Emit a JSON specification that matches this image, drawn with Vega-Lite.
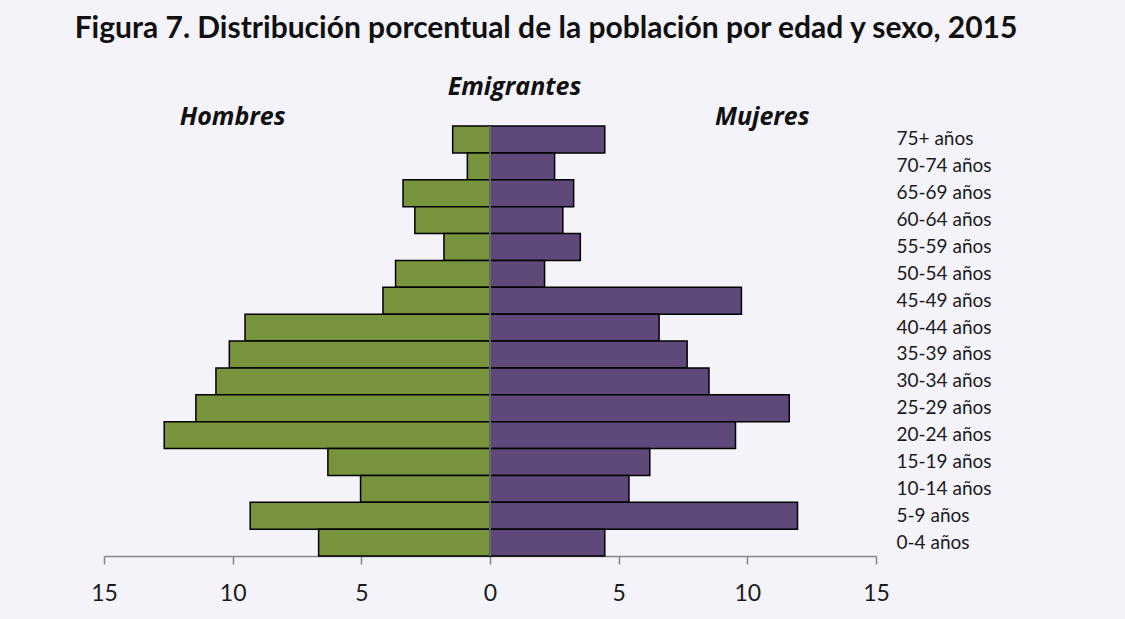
{
  "$schema": "https://vega.github.io/schema/vega-lite/v6.json",
  "width": 772,
  "height": 430,
  "autosize": "none",
  "padding": {"left": 104, "top": 126, "right": 249, "bottom": 63},
  "background": "#f4f3f9",
  "config": {"view": {"stroke": null}, "font": "Lato"},
  "title": {
    "text": "Figura 7. Distribución porcentual de la población por edad y sexo, 2015",
    "font": "Lato",
    "fontSize": 30,
    "fontWeight": "bold",
    "color": "#111111",
    "anchor": "middle",
    "frame": "group",
    "dx": 56,
    "offset": 31
  },
  "datasets": {
    "pyr": [
      {"edad": "75+ años", "sexo": "Hombres", "valor": -1.45},
      {"edad": "70-74 años", "sexo": "Hombres", "valor": -0.88},
      {"edad": "65-69 años", "sexo": "Hombres", "valor": -3.38},
      {"edad": "60-64 años", "sexo": "Hombres", "valor": -2.92},
      {"edad": "55-59 años", "sexo": "Hombres", "valor": -1.79},
      {"edad": "50-54 años", "sexo": "Hombres", "valor": -3.67},
      {"edad": "45-49 años", "sexo": "Hombres", "valor": -4.16},
      {"edad": "40-44 años", "sexo": "Hombres", "valor": -9.52},
      {"edad": "35-39 años", "sexo": "Hombres", "valor": -10.13},
      {"edad": "30-34 años", "sexo": "Hombres", "valor": -10.65},
      {"edad": "25-29 años", "sexo": "Hombres", "valor": -11.43},
      {"edad": "20-24 años", "sexo": "Hombres", "valor": -12.66},
      {"edad": "15-19 años", "sexo": "Hombres", "valor": -6.3},
      {"edad": "10-14 años", "sexo": "Hombres", "valor": -5.03},
      {"edad": "5-9 años", "sexo": "Hombres", "valor": -9.32},
      {"edad": "0-4 años", "sexo": "Hombres", "valor": -6.66},
      {"edad": "75+ años", "sexo": "Mujeres", "valor": 4.46},
      {"edad": "70-74 años", "sexo": "Mujeres", "valor": 2.51},
      {"edad": "65-69 años", "sexo": "Mujeres", "valor": 3.25},
      {"edad": "60-64 años", "sexo": "Mujeres", "valor": 2.83},
      {"edad": "55-59 años", "sexo": "Mujeres", "valor": 3.51},
      {"edad": "50-54 años", "sexo": "Mujeres", "valor": 2.12},
      {"edad": "45-49 años", "sexo": "Mujeres", "valor": 9.77},
      {"edad": "40-44 años", "sexo": "Mujeres", "valor": 6.57},
      {"edad": "35-39 años", "sexo": "Mujeres", "valor": 7.66},
      {"edad": "30-34 años", "sexo": "Mujeres", "valor": 8.51},
      {"edad": "25-29 años", "sexo": "Mujeres", "valor": 11.63},
      {"edad": "20-24 años", "sexo": "Mujeres", "valor": 9.54},
      {"edad": "15-19 años", "sexo": "Mujeres", "valor": 6.21},
      {"edad": "10-14 años", "sexo": "Mujeres", "valor": 5.4},
      {"edad": "5-9 años", "sexo": "Mujeres", "valor": 11.95},
      {"edad": "0-4 años", "sexo": "Mujeres", "valor": 4.46}
    ],
    "sides": [
      {"edad": "75+ años", "valor": -10.0, "texto": "Hombres"},
      {"edad": "75+ años", "valor": 10.58, "texto": "Mujeres"}
    ],
    "group": [
      {"edad": "75+ años", "valor": 0.95, "texto": "Emigrantes"}
    ],
    "zero": [{"valor": 0}]
  },
  "layer": [
    {
      "data": {"name": "pyr"},
      "mark": {"type": "bar", "stroke": "#000000", "strokeWidth": 1.5},
      "encoding": {
        "x": {
          "field": "valor",
          "type": "quantitative",
          "scale": {"domain": [-15, 15], "nice": false},
          "axis": {
            "values": [-15, -10, -5, 0, 5, 10, 15],
            "labelExpr": "abs(datum.value)",
            "labelFlush": false,
            "title": null,
            "grid": false,
            "domainColor": "#868686",
            "domainWidth": 1.5,
            "tickColor": "#868686",
            "tickWidth": 1.5,
            "tickSize": 8,
            "labelFont": "Lato",
            "labelFontSize": 23,
            "labelColor": "#1a1a1a",
            "labelPadding": 18
          }
        },
        "y": {
          "field": "edad",
          "type": "nominal",
          "sort": ["75+ años", "70-74 años", "65-69 años", "60-64 años", "55-59 años", "50-54 años", "45-49 años", "40-44 años", "35-39 años", "30-34 años", "25-29 años", "20-24 años", "15-19 años", "10-14 años", "5-9 años", "0-4 años"],
          "scale": {"paddingInner": 0, "paddingOuter": 0},
          "axis": {
            "orient": "right",
            "title": null,
            "domain": false,
            "ticks": false,
            "labelPadding": 20,
            "labelAlign": "left",
            "labelFont": "Lato",
            "labelFontSize": 19,
            "labelColor": "#1a1a1a"
          }
        },
        "color": {
          "field": "sexo",
          "type": "nominal",
          "scale": {"domain": ["Hombres", "Mujeres"], "range": ["#77933c", "#5f497a"]},
          "legend": null
        }
      }
    },
    {
      "data": {"name": "zero"},
      "mark": {"type": "rule", "color": "#868686", "strokeWidth": 1.5},
      "encoding": {"x": {"field": "valor", "type": "quantitative"}}
    },
    {
      "data": {"name": "sides"},
      "mark": {"type": "text", "font": "Open Sans", "fontSize": 25, "fontWeight": "bold", "fontStyle": "italic", "color": "#111111", "dy": -22, "align": "center", "baseline": "middle"},
      "encoding": {
        "x": {"field": "valor", "type": "quantitative"},
        "y": {"field": "edad", "type": "nominal", "sort": ["75+ años", "70-74 años", "65-69 años", "60-64 años", "55-59 años", "50-54 años", "45-49 años", "40-44 años", "35-39 años", "30-34 años", "25-29 años", "20-24 años", "15-19 años", "10-14 años", "5-9 años", "0-4 años"]},
        "text": {"field": "texto"}
      }
    },
    {
      "data": {"name": "group"},
      "mark": {"type": "text", "font": "Open Sans", "fontSize": 25, "fontWeight": "bold", "fontStyle": "italic", "color": "#111111", "dy": -52, "align": "center", "baseline": "middle"},
      "encoding": {
        "x": {"field": "valor", "type": "quantitative"},
        "y": {"field": "edad", "type": "nominal", "sort": ["75+ años", "70-74 años", "65-69 años", "60-64 años", "55-59 años", "50-54 años", "45-49 años", "40-44 años", "35-39 años", "30-34 años", "25-29 años", "20-24 años", "15-19 años", "10-14 años", "5-9 años", "0-4 años"]},
        "text": {"field": "texto"}
      }
    }
  ]
}
